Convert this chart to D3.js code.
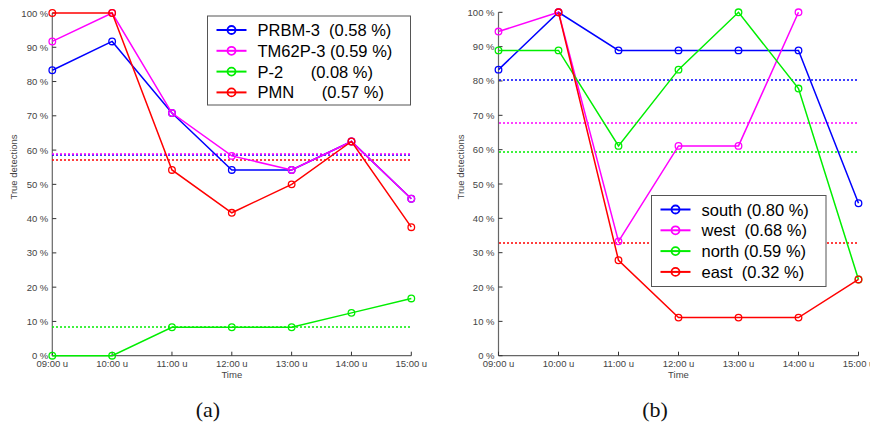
<!DOCTYPE html>
<html>
<head>
<meta charset="utf-8">
<script src="https://cdn.jsdelivr.net/npm/d3@7"></script>
<style>
  body { margin: 0; background: #fff; }
  text { font-family: "Liberation Sans", Arial, sans-serif; }
</style>
</head>
<body>
<div id="chart"></div>
<script>
var width = 870, height = 428;

// shared categories / ticks
var hours = ["09:00 u", "10:00 u", "11:00 u", "12:00 u", "13:00 u", "14:00 u", "15:00 u"];
var yTicks = [0, 10, 20, 30, 40, 50, 60, 70, 80, 90, 100];

// panel (a)
var aNames  = ["PRBM-3", "TM62P-3", "P-2", "PMN"];
var aLabels = ["PRBM-3  (0.58 %)", "TM62P-3 (0.59 %)", "P-2      (0.08 %)", "PMN      (0.57 %)"];
var aPRBM   = [83.3, 91.7, 70.8, 54.2, 54.2, 62.5, 45.8];
var aTM62P  = [91.7, 100, 70.8, 58.3, 54.2, 62.5, 45.8];
var aP2     = [0, 0, 8.3, 8.3, 8.3, 12.5, 16.7];
var aPMN    = [100, 100, 54.2, 41.7, 50.0, 62.5, 37.5];
var aMeans  = [58.5, 59.0, 8.5, 57.2];

// panel (b)
var bNames  = ["south", "west", "north", "east"];
var bLabels = ["south (0.80 %)", "west  (0.68 %)", "north (0.59 %)", "east  (0.32 %)"];
var bSouth  = [83.3, 100, 88.9, 88.9, 88.9, 88.9, 44.4];
var bWest   = [94.4, 100, 33.3, 61.1, 61.1, 100, null];
var bNorth  = [88.9, 88.9, 61.1, 83.3, 100, 77.8, 22.2];
var bEast   = [null, 100, 27.8, 11.1, 11.1, 11.1, 22.2];
var bMeans  = [80.4, 67.8, 59.2, 32.7];

var colors = ["#0000ff", "#ff00ff", "#00ee00", "#ff0000"];

var svg = d3.select("#chart").append("svg")
    .attr("width", width)
    .attr("height", height);

function drawPanel(cfg) {
    var g = svg.append("g");

    var x = d3.scalePoint().domain(hours).range([cfg.x0, cfg.x1]);
    var y = d3.scaleLinear().domain([0, 100]).range([cfg.y0, cfg.y1]);

    // axes
    g.append("line")
        .attr("x1", cfg.x0).attr("x2", cfg.x1)
        .attr("y1", y(0)).attr("y2", y(0))
        .attr("stroke", "#666").attr("stroke-width", 1.2);
    g.append("line")
        .attr("x1", cfg.x0).attr("x2", cfg.x0)
        .attr("y1", y(0)).attr("y2", y(100))
        .attr("stroke", "#666").attr("stroke-width", 1.2);

    yTicks.forEach(function(t) {
        g.append("line")
            .attr("x1", cfg.x0).attr("x2", cfg.x0 + 4)
            .attr("y1", y(t)).attr("y2", y(t))
            .attr("stroke", "#333");
        g.append("text")
            .attr("x", cfg.x0 - 4).attr("y", y(t) + 3.5)
            .attr("text-anchor", "end")
            .style("font-size", "9.5px").style("fill", "#444")
            .text(t + " %");
    });

    hours.forEach(function(h) {
        g.append("line")
            .attr("x1", x(h)).attr("x2", x(h))
            .attr("y1", y(0)).attr("y2", y(0) - 4)
            .attr("stroke", "#333");
        g.append("text")
            .attr("x", x(h)).attr("y", y(0) + 11)
            .attr("text-anchor", "middle")
            .style("font-size", "9.5px").style("fill", "#444")
            .text(h);
    });

    g.append("text")
        .attr("x", x(hours[3])).attr("y", y(0) + 22)
        .attr("text-anchor", "middle")
        .style("font-size", "9.5px").style("fill", "#444")
        .text("Time");

    g.append("text")
        .attr("transform", "translate(" + (cfg.x0 - 35) + ",167) rotate(-90)")
        .attr("text-anchor", "middle")
        .style("font-size", "9.5px").style("fill", "#444")
        .text("True detections");

    // mean lines (dotted)
    cfg.means.forEach(function(m, i) {
        var my = Math.round(y(m));
        g.append("line")
            .attr("x1", Math.round(cfg.x0)).attr("x2", cfg.x1)
            .attr("y1", my).attr("y2", my)
            .attr("stroke", colors[i]).attr("stroke-width", 1.5)
            .attr("stroke-dasharray", "2,2");
    });

    var line = d3.line()
        .defined(function(d) { return d.v !== null; })
        .x(function(d) { return x(d.h); })
        .y(function(d) { return y(d.v); });

    cfg.series.forEach(function(s, i) {
        var pts = s.map(function(v, j) { return {h: hours[j], v: v}; });
        g.append("path")
            .datum(pts)
            .attr("d", line)
            .attr("fill", "none")
            .attr("stroke", colors[i])
            .attr("stroke-width", 1.5);
        g.selectAll(null)
            .data(pts.filter(function(d) { return d.v !== null; }))
            .enter().append("circle")
            .attr("cx", function(d) { return x(d.h); })
            .attr("cy", function(d) { return y(d.v); })
            .attr("r", 3.3)
            .attr("fill", "none")
            .attr("stroke", colors[i])
            .attr("stroke-width", 1.3);
    });

    // legend
    var lg = g.append("g").attr("transform", "translate(" + cfg.lx + "," + cfg.ly + ")");
    lg.append("rect")
        .attr("width", cfg.lw).attr("height", cfg.lh)
        .attr("fill", "#fff").attr("stroke", "#555").attr("stroke-width", 1);
    cfg.labels.forEach(function(lab, i) {
        var ry = 14 + i * 20.8;
        lg.append("line")
            .attr("x1", 9).attr("x2", 39)
            .attr("y1", ry).attr("y2", ry)
            .attr("stroke", colors[i]).attr("stroke-width", 2);
        lg.append("circle")
            .attr("cx", 24).attr("cy", ry).attr("r", 4)
            .attr("fill", "none").attr("stroke", colors[i]).attr("stroke-width", 1.8);
        lg.append("text")
            .attr("x", 50).attr("y", ry + 6)
            .style("font-size", "16.5px").style("fill", "#000")
            .style("white-space", "pre")
            .text(lab);
    });

    // caption
    g.append("text")
        .attr("x", cfg.cx).attr("y", 417)
        .attr("text-anchor", "middle")
        .style("font-family", "'Liberation Serif', 'DejaVu Serif', serif")
        .style("font-size", "22px").style("fill", "#111")
        .text(cfg.caption);
}

drawPanel({
    x0: 52.3, x1: 411.3, y0: 355.7, y1: 13,
    series: [aPRBM, aTM62P, aP2, aPMN],
    means: aMeans, labels: aLabels,
    lx: 207.5, ly: 16, lw: 203, lh: 89,
    cx: 208, caption: "(a)"
});

drawPanel({
    x0: 498.5, x1: 858.5, y0: 355.7, y1: 12.3,
    series: [bSouth, bWest, bNorth, bEast],
    means: bMeans, labels: bLabels,
    lx: 651.5, ly: 195.5, lw: 174.5, lh: 91,
    cx: 655, caption: "(b)"
});
</script>
</body>
</html>
